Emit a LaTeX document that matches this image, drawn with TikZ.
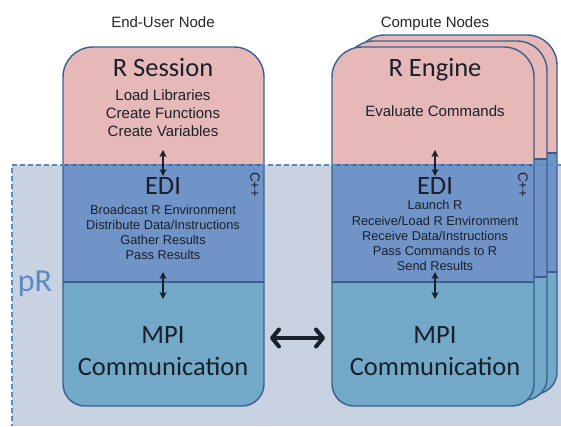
\documentclass[tikz,border=0pt]{standalone}
\usepackage{fontspec}
\setmainfont{Liberation Sans}
\newfontfamily\calfont{Carlito}
\usetikzlibrary{arrows.meta}
\definecolor{pinkc}{HTML}{E6B9B8}
\definecolor{edic}{HTML}{7194C8}
\definecolor{mpic}{HTML}{73A9C8}
\definecolor{outl}{HTML}{3A5F8C}
\definecolor{prbg}{HTML}{C8D2E0}
\definecolor{dashc}{HTML}{5A8AC6}
\definecolor{txt}{HTML}{1A2029}
\newcommand\drawcard[6]{%
  \begin{scope}
    \clip (#1,250) [rounded corners=30pt] -- (#1,#2) -- (#3,#2) -- (#3,250)
      [rounded corners=22pt] -- (#3,#4) -- (#1,#4) -- cycle;
    \fill[pinkc] (#1,#2) rectangle (#3,#5);
    \fill[edic] (#1,#5) rectangle (#3,#6);
    \fill[mpic] (#1,#6) rectangle (#3,#4);
    \draw[cardline] (#1,#5) -- (#3,#5) (#1,#6) -- (#3,#6);
  \end{scope}
  \draw[cardline] (#1,250) [rounded corners=30pt] -- (#1,#2) -- (#3,#2) -- (#3,250)
      [rounded corners=22pt] -- (#3,#4) -- (#1,#4) -- cycle;
}
\begin{document}
\begin{tikzpicture}[x=1pt,y=-1pt,
  cardline/.style={draw=outl,line width=1.4pt},
  head/.style={font=\fontsize{15}{18}\selectfont,text=black!85,anchor=base,inner sep=0pt},
  title/.style={font=\calfont\fontsize{26.5}{30}\selectfont,text=txt,anchor=base,inner sep=0pt},
  rline/.style={font=\fontsize{15}{18}\selectfont,text=txt,anchor=base,inner sep=0pt},
  eline/.style={font=\fontsize{12.8}{15}\selectfont,text=txt,anchor=base,inner sep=0pt},
  cpp/.style={font=\fontsize{13.5}{16}\selectfont,text=txt,rotate=-90,inner sep=0pt},
  small/.style={line width=1.3pt,draw=txt,{Stealth[length=7pt,width=7pt,inset=1.8pt]}-{Stealth[length=7pt,width=7pt,inset=1.8pt]}},
  big/.style={line width=4pt,draw=txt,{Straight Barb[length=7pt,width=17pt,round]}-{Straight Barb[length=7pt,width=17pt,round]}}
]
\useasboundingbox (0,0) rectangle (561,426);
\fill[white] (0,0) rectangle (561,426);
\fill[prbg] (12,165) rectangle (561,426);

% compute node stack (back to front)
\drawcard{355}{35}{557}{394}{153}{272}
\drawcard{344}{41}{547}{400}{159}{277}
\drawcard{332}{47}{534}{406}{165}{282}
% end-user node
\drawcard{63}{47}{264}{406}{165}{282}

% pR dashed border
\draw[dashc,line width=1.5pt,dash pattern=on 5pt off 3pt] (561,165) -- (12,165) -- (12,426);

% headings
\node[head] (hEU) at (163,27) {End-User Node};
\node[head] (hCN) at (435,27) {Compute Nodes};

% left card texts
\node[title] (rs) at (163,76) {R Session};
\node[rline] (l1) at (163,100) {Load Libraries};
\node[rline] (l2) at (163,118) {Create Functions};
\node[rline] (l3) at (163,136) {Create Variables};
\node[title] (edi1) at (163,194) {EDI};
\node[eline] (e1) at (163,214) {Broadcast R Environment};
\node[eline] (e2) at (163,229) {Distribute Data/Instructions};
\node[eline] (e3) at (163,244) {Gather Results};
\node[eline] (e4) at (163,259) {Pass Results};
\node[title] (mpi1) at (163,343) {MPI};
\node[title] (com1) at (163,375) {Communication};
\node[cpp] (cpp1) at (255,185) {C++};

% right card texts
\node[title] (re) at (435,76) {R Engine};
\node[rline] (ev) at (435,116) {Evaluate Commands};
\node[title] (edi2) at (435,194) {EDI};
\node[eline] (f1) at (435,209) {Launch R};
\node[eline] (f2) at (435,225) {Receive/Load R Environment};
\node[eline] (f3) at (435,240) {Receive Data/Instructions};
\node[eline] (f4) at (435,255) {Pass Commands to R};
\node[eline] (f5) at (435,270) {Send Results};
\node[title] (mpi2) at (435,343) {MPI};
\node[title] (com2) at (435,375) {Communication};
\node[cpp] (cpp2) at (523,185) {C++};

% pR label
\node[font=\calfont\fontsize{32}{36}\selectfont,text=dashc,anchor=base,inner sep=0pt] (pr) at (35,291) {pR};

% arrows
\coordinate (a1t) at (163,150); \coordinate (a1b) at (163,176);
\coordinate (a2t) at (163,272); \coordinate (a2b) at (163,299);
\coordinate (b1t) at (435,150); \coordinate (b1b) at (435,176);
\coordinate (b2t) at (435,272); \coordinate (b2b) at (435,299);
\draw[small] (a1t) -- (a1b);
\draw[small] (a2t) -- (a2b);
\draw[small] (b1t) -- (b1b);
\draw[small] (b2t) -- (b2b);
\coordinate (mL) at (270,338); \coordinate (mR) at (325,338);
\draw[big] (mL) -- (mR);
\end{tikzpicture}
\end{document}
